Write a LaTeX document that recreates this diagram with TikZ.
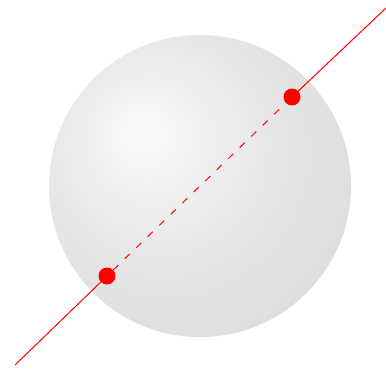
\documentclass[tikz,border=0pt]{standalone}
\definecolor{sphA}{HTML}{FBFBFB}
\definecolor{sphB}{HTML}{E7E7E7}
\definecolor{sphC}{HTML}{D8D8D8}
\pgfdeclareradialshading{sphereshade}{\pgfpoint{-10bp}{9.3bp}}{color(0bp)=(sphA); color(18bp)=(sphB); color(40bp)=(sphC); color(60bp)=(sphC)}
\begin{document}
\begin{tikzpicture}[x=1pt,y=-1pt,
  dotnode/.style={circle,fill=red,draw=none,inner sep=0pt,minimum size=17pt},
  axisline/.style={red,line width=1pt},
  hidden/.style={red,line width=1pt,dash pattern=on 7pt off 9pt}]
\useasboundingbox (0,0) rectangle (386,368);
\shade[shading=sphereshade] (200,186) circle (151);
\coordinate (lo) at (15,365);
\coordinate (hi) at (386,8);
\node[dotnode] (p) at (107,276) {};
\node[dotnode] (q) at (292,97) {};
\draw[axisline] (lo) -- (p.center);
\draw[axisline] (q.center) -- (hi);
\draw[hidden] (p) -- (q);
\end{tikzpicture}
\end{document}
